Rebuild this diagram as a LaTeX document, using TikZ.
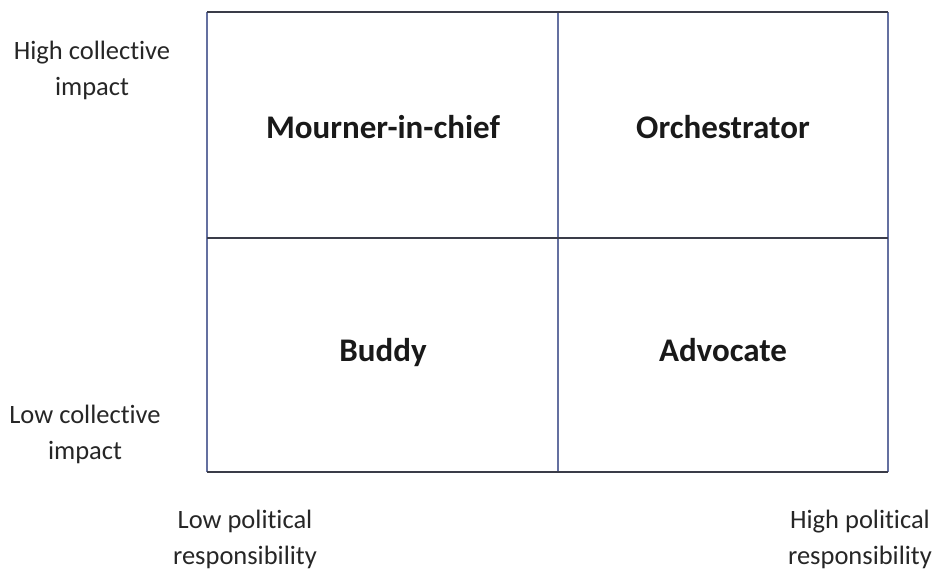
\documentclass[tikz,border=0pt]{standalone}
\usepackage{fontspec}
\setmainfont{Carlito}[Ligatures=NoCommon]
\usepackage{xcolor}
\usetikzlibrary{positioning}
\definecolor{rulegray}{RGB}{58,60,72}
\definecolor{ruleblue}{RGB}{100,112,160}

\begin{document}
\begin{tikzpicture}[x=1pt,y=-1pt,
				cell/.style={font=\fontsize{33}{38}\selectfont\bfseries,text=black!90,anchor=base},
				axislabel/.style={font=\fontsize{26.5}{36}\selectfont,align=center,text=black!85}]
				\useasboundingbox (0,0) rectangle (936,572);
				
				% Grid corners and middle lines.
				\coordinate (tl) at (207,12);
				\coordinate (br) at (888,472);
				\coordinate (mx) at (558,12);
				\coordinate (my) at (207,238);
				\draw[ruleblue,line width=1.4pt] (tl)--(tl|-br);
				\draw[ruleblue,line width=1.4pt] (mx)--(mx|-br);
				\draw[ruleblue,line width=1.4pt] (br|-tl)--(br);
				\draw[rulegray,line width=1.4pt] (tl)--(br|-tl);
				\draw[rulegray,line width=1.4pt] (my)--(br|-my);
				\draw[rulegray,line width=1.4pt] (tl|-br)--(br);
				
				% Quadrant names, on a common baseline per row.
				\node[cell] (mourner) at (383,139) {Mourner-in-chief};
				\node[cell] (orchestrator) at (723,139) {Orchestrator};
				\node[cell] (buddy) at (383,361) {Buddy};
				\node[cell] (advocate) at (723,361) {Advocate};
				
				% Axis ends.
				\node[axislabel] (highimpact) at (92,70) {High collective\\impact};
				\node[axislabel] (lowimpact) at (85,434) {Low collective\\impact};
				\node[axislabel] (lowresp) at (245,539) {Low political\\responsibility};
				\node[axislabel] (highresp) at (860,539) {High political\\responsibility};
			\end{tikzpicture}
\end{document}
